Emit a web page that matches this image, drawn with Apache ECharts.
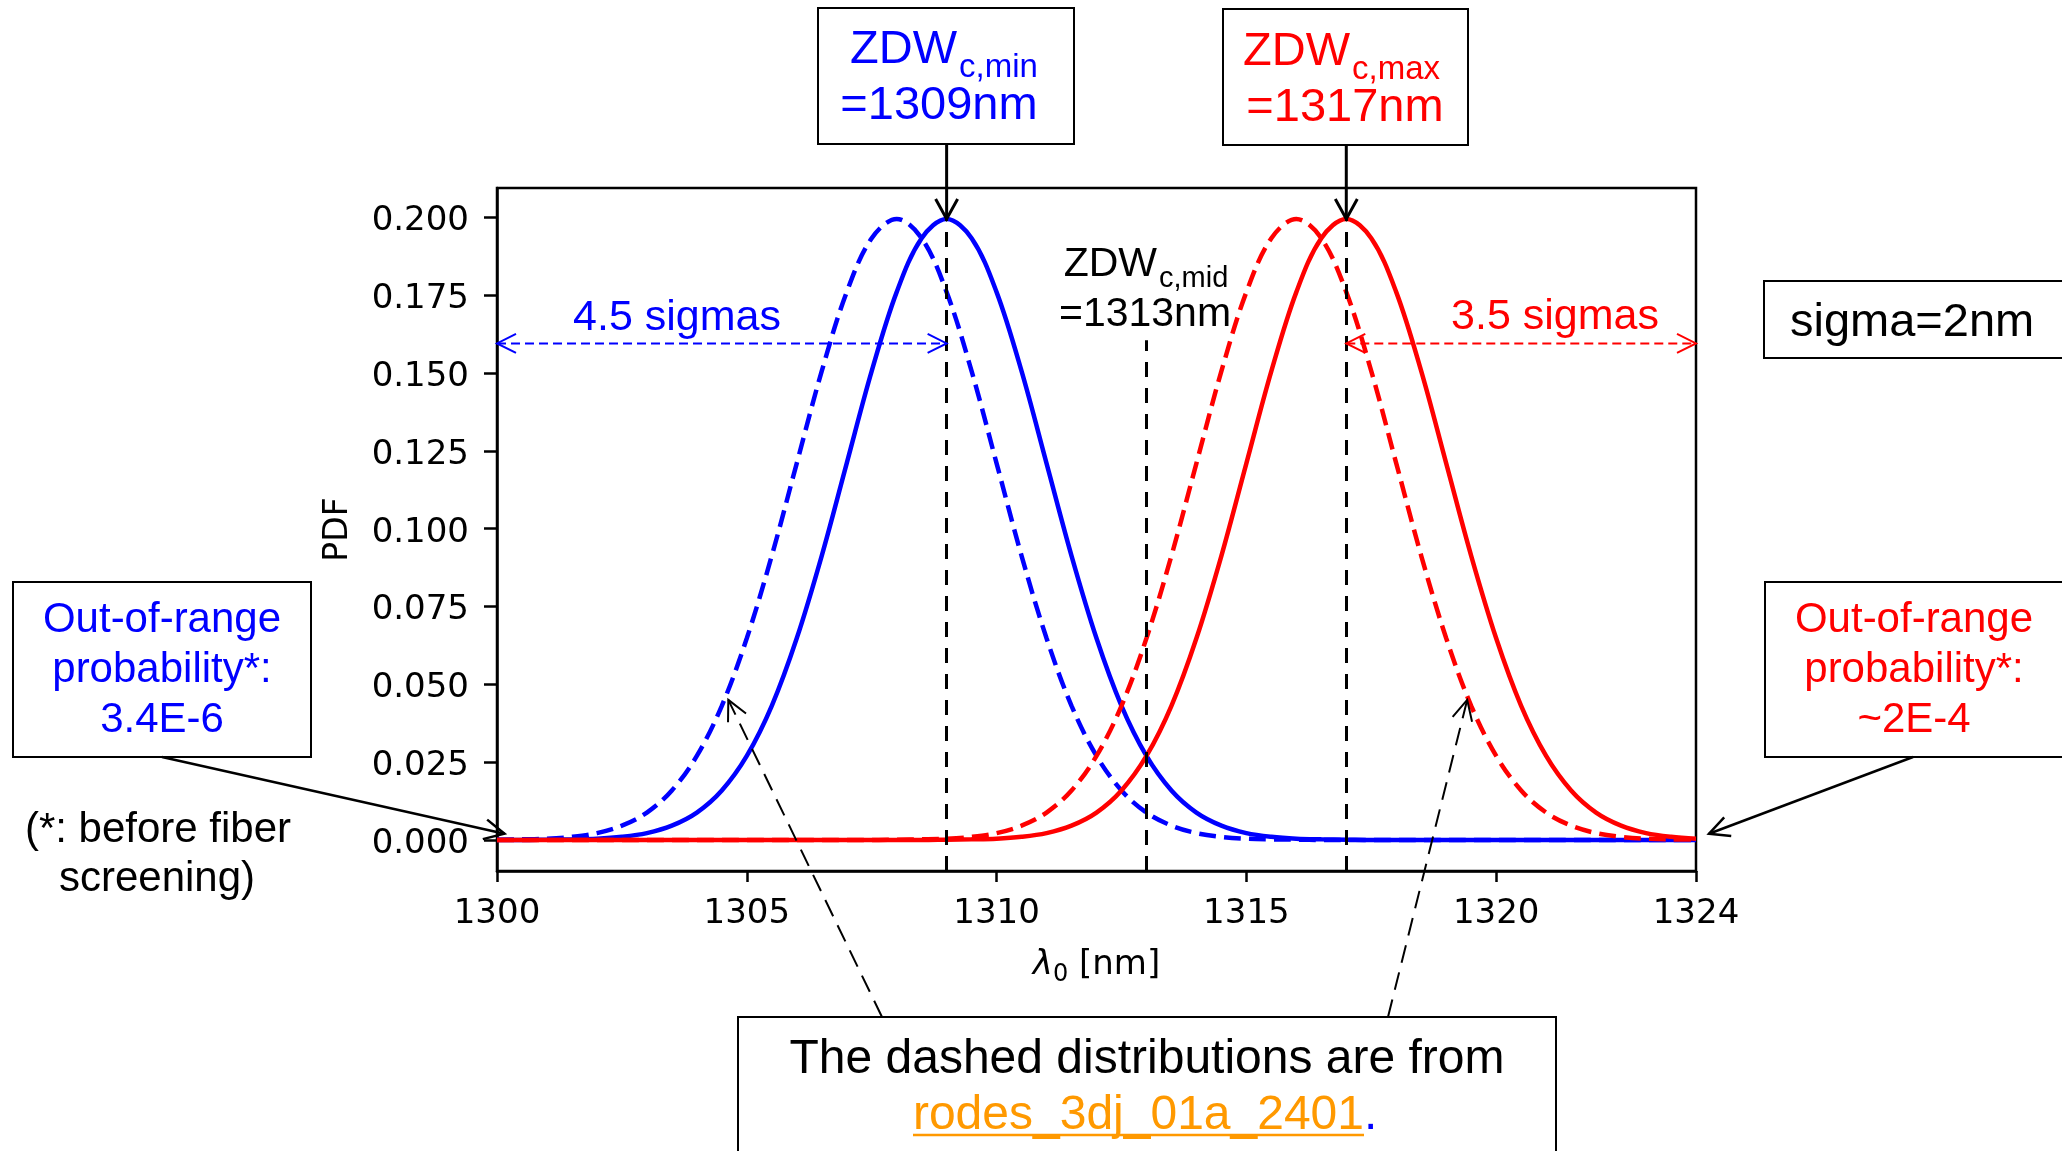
<!DOCTYPE html>
<html>
<head>
<meta charset="utf-8">
<script src="https://cdn.jsdelivr.net/npm/echarts@6/dist/echarts.min.js"></script>
<style>
html, body { margin: 0; padding: 0; background: #fff; }
#chart { width: 2062px; height: 1151px; }
</style>
</head>
<body>
<div id="chart"></div>
<script>
// wavelength grid (nm) and PDF values
var lambda = [1300, 1300.5, 1301, 1301.5, 1302, 1302.5, 1303, 1303.5, 1304, 1304.5,
    1305, 1305.5, 1306, 1306.5, 1307, 1307.5, 1308, 1308.5, 1309, 1309.5,
    1310, 1310.5, 1311, 1311.5, 1312, 1312.5, 1313, 1313.5, 1314, 1314.5,
    1315, 1315.5, 1316, 1316.5, 1317, 1317.5, 1318, 1318.5, 1319, 1319.5,
    1320, 1320.5, 1321, 1321.5, 1322, 1322.5, 1323, 1323.5, 1324];

var blueSolid = [0, 0, 0.0001, 0.0002, 0.0004, 0.0010, 0.0022, 0.0046, 0.0088, 0.0159,
    0.0270, 0.0431, 0.0648, 0.0913, 0.1210, 0.1506, 0.1760, 0.1933, 0.1995, 0.1933,
    0.1760, 0.1506, 0.1210, 0.0913, 0.0648, 0.0431, 0.0270, 0.0159, 0.0088, 0.0046,
    0.0022, 0.0010, 0.0004, 0.0002, 0.0001, 0, 0, 0, 0, 0,
    0, 0, 0, 0, 0, 0, 0, 0, 0];

var blueDashed = [0.0001, 0.0002, 0.0004, 0.0010, 0.0022, 0.0046, 0.0088, 0.0159, 0.0270, 0.0431,
    0.0648, 0.0913, 0.1210, 0.1506, 0.1760, 0.1933, 0.1995, 0.1933, 0.1760, 0.1506,
    0.1210, 0.0913, 0.0648, 0.0431, 0.0270, 0.0159, 0.0088, 0.0046, 0.0022, 0.0010,
    0.0004, 0.0002, 0.0001, 0, 0, 0, 0, 0, 0, 0,
    0, 0, 0, 0, 0, 0, 0, 0, 0];

var redSolid = [0, 0, 0, 0, 0, 0, 0, 0, 0, 0,
    0, 0, 0, 0, 0, 0, 0, 0, 0.0001, 0.0002,
    0.0004, 0.0010, 0.0022, 0.0046, 0.0088, 0.0159, 0.0270, 0.0431, 0.0648, 0.0913,
    0.1210, 0.1506, 0.1760, 0.1933, 0.1995, 0.1933, 0.1760, 0.1506, 0.1210, 0.0913,
    0.0648, 0.0431, 0.0270, 0.0159, 0.0088, 0.0046, 0.0022, 0.0010, 0.0004];

var redDashed = [0, 0, 0, 0, 0, 0, 0, 0, 0, 0,
    0, 0, 0, 0, 0, 0, 0.0001, 0.0002, 0.0004, 0.0010,
    0.0022, 0.0046, 0.0088, 0.0159, 0.0270, 0.0431, 0.0648, 0.0913, 0.1210, 0.1506,
    0.1760, 0.1933, 0.1995, 0.1933, 0.1760, 0.1506, 0.1210, 0.0913, 0.0648, 0.0431,
    0.0270, 0.0159, 0.0088, 0.0046, 0.0022, 0.0010, 0.0004, 0.0002, 0.0001];

var xTicks = [1300, 1305, 1310, 1315, 1320, 1324];
var yTicks = [0, 0.025, 0.05, 0.075, 0.1, 0.125, 0.15, 0.175, 0.2];

// vertical ZDW markers: position and top of the dashed line
var zdwX = [1309, 1313, 1317];
var zdwTop = [0.1995, 0.1605, 0.1995];

var Y_MIN = -0.00997, Y_MAX = 0.20944;
var SANS = '"Liberation Sans", Arial, sans-serif';
var AX = '"DejaVu Sans", sans-serif';

function zip(ys) {
    return lambda.map(function (x, i) { return [x, ys[i]]; });
}

function curve(name, ys, color, dashed, z) {
    return {
        name: name,
        type: 'line',
        data: zip(ys),
        showSymbol: false,
        smooth: 0.35,
        clip: true,
        z: z,
        lineStyle: { color: color, width: 4.5, type: dashed ? [17, 8] : 'solid' },
        emphasis: { disabled: true }
    };
}

var chart = echarts.init(document.getElementById('chart'), null, { renderer: 'canvas' });

var zdwLines = zdwX.map(function (x, i) {
    return [{ coord: [x, Y_MIN] }, { coord: [x, zdwTop[i]] }];
});

var redLine = curve('red', redSolid, '#ff0000', false, 4);
redLine.markLine = {
    silent: true,
    symbol: ['none', 'none'],
    label: { show: false },
    lineStyle: { color: '#000', width: 3, type: [15, 11] },
    emphasis: { disabled: true },
    data: zdwLines
};

chart.setOption({
    backgroundColor: '#fff',
    animation: false,
    grid: {
        left: 497, right: 366, top: 188, bottom: 280,
        show: true, borderColor: '#000', borderWidth: 2.5,
        outerBoundsMode: 'none'
    },
    xAxis: {
        type: 'value',
        min: 1300, max: 1324,
        name: '{l|λ}{s|0}{n| [nm]}',
        nameLocation: 'middle',
        nameGap: 72,
        nameMoveOverlap: false,
        nameTextStyle: {
            color: '#000', fontFamily: AX, fontSize: 34,
            rich: {
                l: { fontFamily: AX, fontSize: 34, fontStyle: 'italic', color: '#000', lineHeight: 44, verticalAlign: 'middle' },
                s: { fontFamily: AX, fontSize: 24, color: '#000', lineHeight: 24, verticalAlign: 'bottom' },
                n: { fontFamily: AX, fontSize: 34, color: '#000', lineHeight: 44, verticalAlign: 'middle' }
            }
        },
        axisLine: { show: true, onZero: false, lineStyle: { color: '#000', width: 2.5 } },
        axisTick: { show: true, length: 11, customValues: xTicks, lineStyle: { color: '#000', width: 2.5 } },
        axisLabel: {
            customValues: xTicks, showMinLabel: true, showMaxLabel: true,
            formatter: function (v) { return String(v); },
            fontFamily: AX, fontSize: 34, color: '#000', margin: 26
        },
        splitLine: { show: false }
    },
    yAxis: {
        type: 'value',
        min: Y_MIN, max: Y_MAX,
        name: 'PDF',
        nameLocation: 'middle',
        nameRotate: 90,
        nameGap: 142,
        nameMoveOverlap: false,
        nameTextStyle: { color: '#000', fontFamily: AX, fontSize: 33 },
        axisLine: { show: true, lineStyle: { color: '#000', width: 2.5 } },
        axisTick: { show: true, length: 13, customValues: yTicks, lineStyle: { color: '#000', width: 2.5 } },
        axisLabel: {
            customValues: yTicks,
            formatter: function (v) { return '{a|' + v.toFixed(3) + '}'; },
            margin: 28,
            rich: {
                a: { fontFamily: AX, fontSize: 34, color: '#000', padding: [8, 0, 0, 0] }
            }
        },
        splitLine: { show: false }
    },
    series: [
        curve('blue dashed', blueDashed, '#0000ff', true, 1),
        curve('blue', blueSolid, '#0000ff', false, 2),
        curve('red dashed', redDashed, '#ff0000', true, 3),
        redLine
    ]
});

// ---- annotations ----
function toPx(p) { return chart.convertToPixel({ gridIndex: 0 }, p); }

function seg(p0, p1, color, width, dash) {
    var st = { stroke: color, lineWidth: width };
    if (dash) st.lineDash = dash;
    return { type: 'line', z: 100, silent: true, shape: { x1: p0[0], y1: p0[1], x2: p1[0], y2: p1[1] }, style: st };
}

function head(tip, from, color, width, len, half) {
    var dx = tip[0] - from[0], dy = tip[1] - from[1];
    var L = Math.sqrt(dx * dx + dy * dy), ux = dx / L, uy = dy / L;
    var bx = tip[0] - ux * len, by = tip[1] - uy * len;
    return {
        type: 'polyline', z: 101, silent: true,
        shape: { points: [[bx - uy * half, by + ux * half], [tip[0], tip[1]], [bx + uy * half, by - ux * half]] },
        style: { stroke: color, lineWidth: width, fill: null }
    };
}

function box(x, y, w, h) {
    return { type: 'rect', z: 90, silent: true, shape: { x: x, y: y, width: w, height: h },
        style: { fill: '#fff', stroke: '#000', lineWidth: 2 } };
}

function txt(x, base, str, size, color, align) {
    return {
        type: 'text', z: 102, silent: true,
        x: x, y: base - 0.29 * size,
        style: { text: str, fontFamily: SANS, fontSize: size, fill: color, align: align || 'center', verticalAlign: 'middle' }
    };
}

var g = [];

// ZDW boxes with arrows to the peaks
g.push(box(818, 8, 256, 136));
g.push(txt(957, 64, 'ZDW', 47, '#0000ff', 'right'));
g.push(txt(959, 77, 'c,min', 33, '#0000ff', 'left'));
g.push(txt(939, 120, '=1309nm', 47, '#0000ff'));

g.push(box(1223, 9, 245, 136));
g.push(txt(1350, 66, 'ZDW', 47, '#ff0000', 'right'));
g.push(txt(1352, 79, 'c,max', 33, '#ff0000', 'left'));
g.push(txt(1345, 122, '=1317nm', 47, '#ff0000'));

var tMin = toPx([1309, 0.1995]);
g.push(seg([tMin[0], 144], tMin, '#000', 3));
g.push(head(tMin, [tMin[0], 144], '#000', 3, 20, 11));
var tMax = toPx([1317, 0.1995]);
g.push(seg([tMax[0], 145], tMax, '#000', 3));
g.push(head(tMax, [tMax[0], 145], '#000', 3, 20, 11));

// ZDW mid label
g.push(txt(1157, 277, 'ZDW', 41, '#000', 'right'));
g.push(txt(1159, 287, 'c,mid', 29, '#000', 'left'));
g.push(txt(1145, 327, '=1313nm', 41, '#000'));

// sigma spans
var sigY = 0.1595;
var b0 = toPx([1300, sigY]), b1 = toPx([1309, sigY]);
g.push(seg(b0, b1, '#0000ff', 2, [9, 5]));
g.push(head(b0, b1, '#0000ff', 2, 19, 9.5));
g.push(head(b1, b0, '#0000ff', 2, 19, 9.5));
g.push(txt(677, 331, '4.5 sigmas', 43, '#0000ff'));

var r0 = toPx([1317, sigY]), r1 = toPx([1324, sigY]);
g.push(seg(r0, r1, '#ff0000', 2, [9, 5]));
g.push(head(r0, r1, '#ff0000', 2, 19, 9.5));
g.push(head(r1, r0, '#ff0000', 2, 19, 9.5));
g.push(txt(1555, 330, '3.5 sigmas', 43, '#ff0000'));

// sigma box
g.push(box(1764, 281, 310, 77));
g.push(txt(1790, 337, 'sigma=2nm', 47, '#000', 'left'));

// out-of-range boxes
g.push(box(13, 582, 298, 175));
g.push(txt(162, 633, 'Out-of-range', 42, '#0000ff'));
g.push(txt(162, 683, 'probability*:', 42, '#0000ff'));
g.push(txt(162, 733, '3.4E-6', 42, '#0000ff'));
var oL = toPx([1300.15, 0.002]);
g.push(seg([162, 757], oL, '#000', 2.5));
g.push(head(oL, [162, 757], '#000', 2.5, 20, 10));

g.push(box(1765, 582, 310, 175));
g.push(txt(1914, 633, 'Out-of-range', 42, '#ff0000'));
g.push(txt(1914, 683, 'probability*:', 42, '#ff0000'));
g.push(txt(1914, 733, '~2E-4', 42, '#ff0000'));
var oR = toPx([1324.26, 0.002]);
g.push(seg([1913, 757], oR, '#000', 2.5));
g.push(head(oR, [1913, 757], '#000', 2.5, 20, 10));

g.push(txt(158, 843, '(*: before fiber', 42, '#000'));
g.push(txt(157, 892, 'screening)', 42, '#000'));

// note box at the bottom with dashed pointers to the dashed curves
var nL = toPx([1304.63, 0.045]);
g.push(seg([882, 1017], nL, '#000', 2, [18, 10]));
g.push(head(nL, [882, 1017], '#000', 2, 20, 10));
var nR = toPx([1319.42, 0.045]);
g.push(seg([1388, 1017], nR, '#000', 2, [18, 10]));
g.push(head(nR, [1388, 1017], '#000', 2, 20, 10));

g.push(box(738, 1017, 818, 200));
g.push(txt(1147, 1074, 'The dashed distributions are from', 48, '#000'));
g.push(txt(1364, 1130, 'rodes_3dj_01a_2401', 48, '#ff9900', 'right'));
g.push(txt(1364, 1130, '.', 48, '#0000ff', 'left'));
g.push(seg([913, 1135], [1364, 1135], '#ff9900', 2.5));

chart.setOption({ graphic: { elements: g } });
</script>
</body>
</html>
